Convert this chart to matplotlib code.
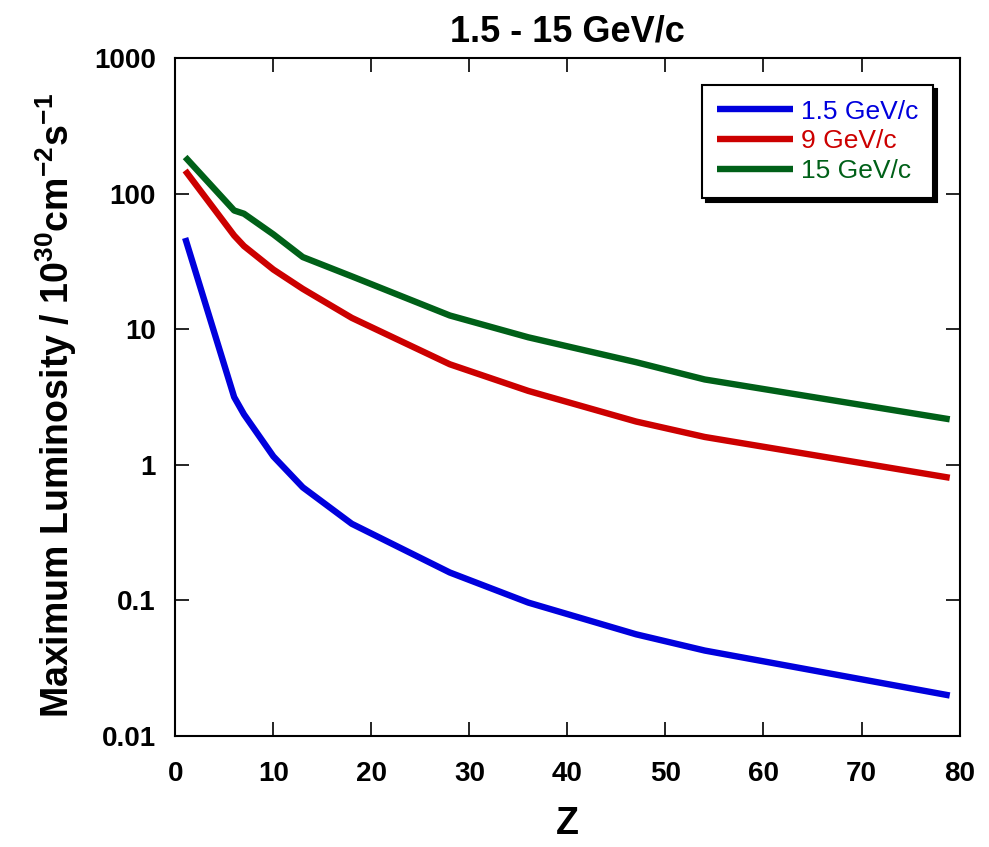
import numpy as np
import matplotlib
matplotlib.use("Agg")
import matplotlib.pyplot as plt

plt.rcParams['font.family'] = ['Liberation Sans', 'DejaVu Sans']
plt.rcParams['mathtext.fontset'] = 'custom'
plt.rcParams['mathtext.rm'] = 'Liberation Sans'
plt.rcParams['mathtext.bf'] = 'Liberation Sans:bold'

# Maximum luminosity vs target Z for three beam momenta
z = [1, 6, 7, 10, 13, 18, 28, 36, 47, 54, 79]
lum_1p5 = [47, 3.15, 2.35, 1.15, 0.68, 0.366, 0.16, 0.096, 0.056, 0.0425, 0.0198]
lum_9 = [148, 49, 41, 27.5, 19.8, 12.1, 5.5, 3.5, 2.08, 1.6, 0.80]
lum_15 = [186, 75, 71, 50, 34, 24.5, 12.6, 8.7, 5.7, 4.25, 2.16]

labels = ['1.5 GeV/c', '9 GeV/c', '15 GeV/c']
colors = ['#0000dd', '#cc0000', '#006018']

fig = plt.figure(figsize=(9.89, 8.47), dpi=100)
ax = fig.add_axes([0.1773, 0.1314, 0.7929, 0.8001])

for y, lab, c in zip([lum_1p5, lum_9, lum_15], labels, colors):
    ax.plot(z, y, color=c, lw=4.6, label=lab, solid_capstyle='butt')

ax.set_yscale('log')
ax.set_xlim(0, 80)
ax.set_ylim(0.01, 1000)
ax.set_xticks(np.arange(0, 81, 10))
ax.set_yticks([0.01, 0.1, 1, 10, 100, 1000])
ax.set_yticklabels(['0.01', '0.1', '1', '10', '100', '1000'])
ax.minorticks_off()
ax.tick_params(direction='in', length=10, width=1.2, top=True, right=True,
               labelsize=20)
ax.tick_params(axis='y', pad=14)
ax.tick_params(axis='x', pad=18)
for lbl in ax.get_xticklabels() + ax.get_yticklabels():
    lbl.set_fontweight('bold')
for sp in ax.spines.values():
    sp.set_linewidth(1.5)

ax.set_title('1.5 - 15 GeV/c', fontsize=26, fontweight='bold', pad=12)
ax.set_xlabel('Z', fontsize=27, fontweight='bold', labelpad=14)
ax.set_ylabel(r'Maximum Luminosity / 10$^{\mathbf{30}}$cm$^{\mathbf{-2}}$s$^{\mathbf{-1}}$',
              fontsize=27, fontweight='bold')
ax.yaxis.set_label_coords(-0.123, 0.487)

leg = ax.legend(loc='upper right', bbox_to_anchor=(933 / 989, 1 - 85 / 847),
                bbox_transform=fig.transFigure, borderaxespad=0, fontsize=19,
                fancybox=False, handlelength=2.9, handletextpad=0.3,
                labelspacing=0.22, borderpad=0.55,
                shadow={'ox': 3, 'oy': -3, 'color': 'black', 'alpha': 1})
leg.get_frame().set_edgecolor('black')
leg.get_frame().set_linewidth(1.5)
for txt, c in zip(leg.get_texts(), colors):
    txt.set_color(c)

fig.savefig('out.png', dpi=100)
